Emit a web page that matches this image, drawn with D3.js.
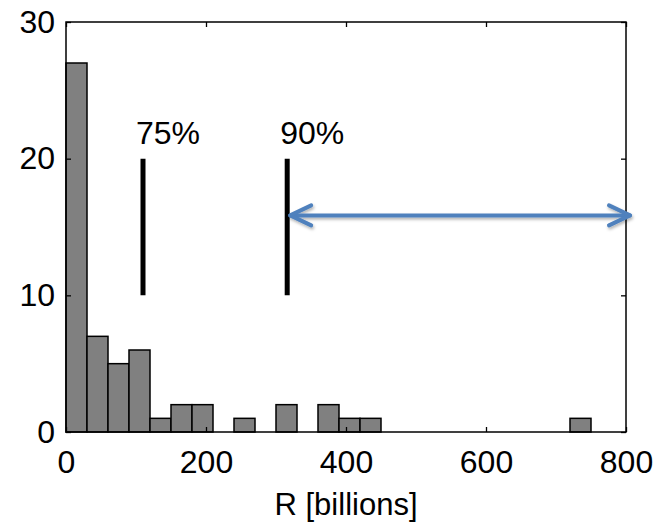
<!DOCTYPE html>
<html>
<head>
<meta charset="utf-8">
<script src="https://cdn.jsdelivr.net/npm/d3@7"></script>
<style>
  body { margin: 0; background: #fff; }
  svg text { font-family: "Liberation Sans", Arial, sans-serif; fill: #000; }
</style>
</head>
<body>
<div id="chart-area"></div>
<script>
// histogram of R, bins 30 wide starting at 0
let binWidth = 30;
let binStarts = [0, 30, 60, 90, 120, 150, 180, 210, 240, 270, 300, 330, 360, 390, 420, 450, 480, 510, 540, 570, 600, 630, 660, 690, 720];
let counts    = [27, 7, 5, 6, 1, 2, 2, 0, 1, 0, 2, 0, 2, 1, 1, 0, 0, 0, 0, 0, 0, 0, 0, 0, 1];

let xTicks = [0, 200, 400, 600, 800];
let yTicks = [0, 10, 20, 30];

let markerNames = ["75%", "90%"];
let markerValues = [110, 316];
let markerRange = [10, 20];

let arrowY = 15.85;
let arrowEnd = 800;

let margin = { left: 66, top: 22, right: 28, bottom: 91 };
let width = 654 - margin.left - margin.right;
let height = 523 - margin.top - margin.bottom;

let svg = d3.select("#chart-area")
	.append("svg")
	.attr("width", 654)
	.attr("height", 523);

let defs = svg.append("defs");
defs.append("filter")
	.attr("id", "shadow")
	.attr("x", "-5%").attr("y", "-50%")
	.attr("width", "110%").attr("height", "200%")
	.append("feDropShadow")
	.attr("dx", 1).attr("dy", 2)
	.attr("stdDeviation", 1.5)
	.attr("flood-color", "#000")
	.attr("flood-opacity", 0.3);

let g = svg.append("g")
	.attr("transform", `translate(${margin.left}, ${margin.top})`);

let x = d3.scaleLinear().domain([0, 800]).range([0, width]);
let y = d3.scaleLinear().domain([0, 30]).range([height, 0]);

let data = binStarts.map((s, i) => ({ start: s, count: counts[i] }));

// bars
g.selectAll("rect.bar")
	.data(data.filter(d => d.count > 0))
	.enter().append("rect")
	.attr("class", "bar")
	.attr("x", d => x(d.start))
	.attr("width", d => x(d.start + binWidth) - x(d.start))
	.attr("y", d => y(d.count))
	.attr("height", d => y(0) - y(d.count))
	.attr("fill", "#808080")
	.attr("stroke", "#000")
	.attr("stroke-width", 1.5);

// axes: ticks inward on all four sides
function styleAxis(sel) {
	sel.select(".domain").remove();
	sel.selectAll(".tick line").attr("stroke", "#000").attr("stroke-width", 1.3);
	sel.selectAll("text")
		.attr("font-size", "32px")
		.attr("font-family", "'Liberation Sans', Arial, sans-serif");
}

g.append("g")
	.attr("transform", `translate(0, ${height})`)
	.call(d3.axisBottom(x).tickValues(xTicks).tickSize(-5).tickPadding(18).tickFormat(d3.format("d")))
	.call(styleAxis);

g.append("g")
	.call(d3.axisTop(x).tickValues(xTicks).tickSize(-5).tickFormat(""))
	.call(styleAxis);

g.append("g")
	.call(d3.axisLeft(y).tickValues(yTicks).tickSize(-5).tickPadding(11).tickFormat(d3.format("d")))
	.call(styleAxis);

g.append("g")
	.attr("transform", `translate(${width}, 0)`)
	.call(d3.axisRight(y).tickValues(yTicks).tickSize(-5).tickFormat(""))
	.call(styleAxis);

// frame
g.append("rect")
	.attr("x", 0).attr("y", 0)
	.attr("width", width).attr("height", height)
	.attr("fill", "none")
	.attr("stroke", "#000")
	.attr("stroke-width", 1.5);

// percentile markers
markerValues.forEach(function(v, i){
	g.append("line")
		.attr("x1", x(v)).attr("x2", x(v))
		.attr("y1", y(markerRange[0])).attr("y2", y(markerRange[1]))
		.attr("stroke", "#000")
		.attr("stroke-width", 5);
	g.append("text")
		.attr("x", x(v) - 7)
		.attr("y", y(markerRange[1]) - 15)
		.attr("font-size", "32px")
		.text(markerNames[i]);
});

// double arrow from 90% to the right edge
let ay = y(arrowY);
let x0 = x(markerValues[1]) + 3;
let x1 = x(arrowEnd) + 4;
let arrow = g.append("g")
	.attr("filter", "url(#shadow)")
	.attr("stroke", "#4F81BD")
	.attr("stroke-width", 4)
	.attr("stroke-linecap", "round")
	.attr("stroke-linejoin", "round")
	.attr("fill", "none");

arrow.append("line")
	.attr("x1", x0).attr("x2", x1)
	.attr("y1", ay).attr("y2", ay);
arrow.append("path")
	.attr("d", `M${x0 + 21},${ay - 10} L${x0},${ay} L${x0 + 21},${ay + 10}`);
arrow.append("path")
	.attr("d", `M${x1 - 21},${ay - 10} L${x1},${ay} L${x1 - 21},${ay + 10}`);

// x label
g.append("text")
	.attr("x", width / 2)
	.attr("y", height + 83)
	.attr("text-anchor", "middle")
	.attr("font-size", "31px")
	.text("R [billions]");
</script>
</body>
</html>
